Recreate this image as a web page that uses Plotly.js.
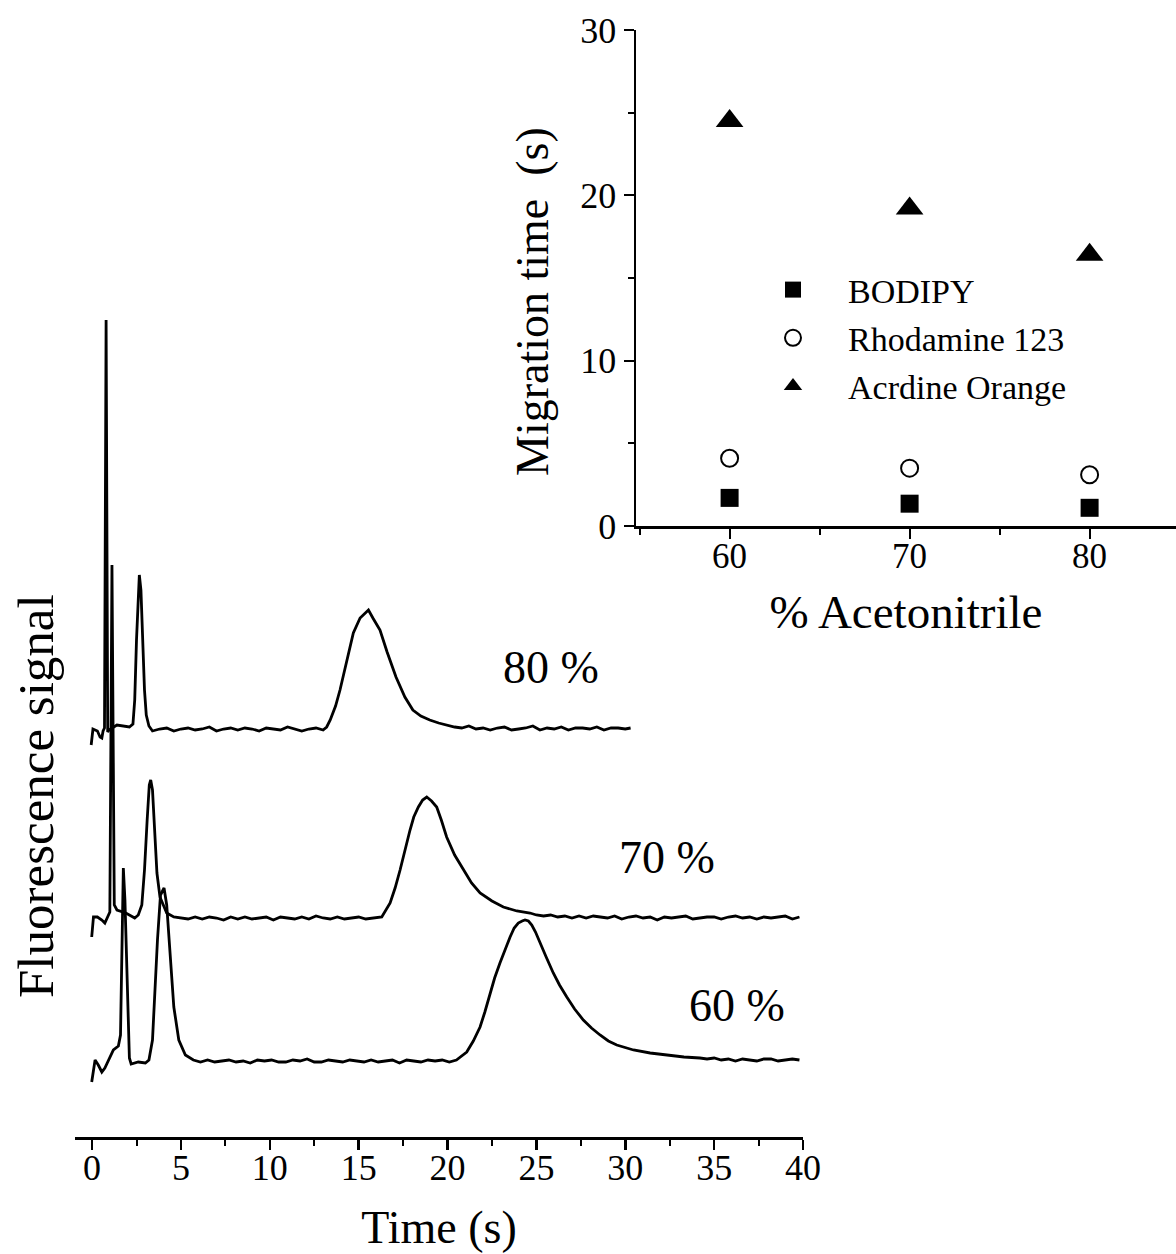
<!DOCTYPE html>
<html>
<head>
<meta charset="utf-8">
<script src="https://cdn.plot.ly/plotly-3.0.1.min.js"></script>
<style>html,body{margin:0;padding:0;background:#fff;}#chart{width:1176px;height:1254px;}</style>
</head>
<body>
<div id="chart"></div>
<script>
// ---------- Electropherograms (time in s, signal relative to each trace baseline, arbitrary units) ----------
const time80 = [-0.05, 0.05, 0.3, 0.45, 0.55, 0.62, 0.7, 0.79, 0.88, 0.95, 1.4, 1.8, 2.1, 2.3, 2.4, 2.5, 2.6, 2.66, 2.75, 2.85, 2.95, 3.05, 3.2, 3.4,
  3.8, 4.2, 4.6, 5.0, 5.4, 5.8, 6.2, 6.6, 7.0, 7.4, 7.8, 8.2, 8.6, 9.0, 9.4, 9.8, 10.2, 10.6, 11.0, 11.4, 11.8, 12.2, 12.6, 13.0,
  13.2, 13.4, 13.7, 13.95, 14.33, 14.7, 15.08, 15.4, 15.55, 15.8, 16.2, 16.6, 17.1, 17.6, 18.05, 18.5, 19.0, 19.5, 19.95,
  20.4, 20.8, 21.2, 21.6, 22.0, 22.4, 22.8, 23.2, 23.6, 24.0, 24.4, 24.8, 25.2, 25.6, 26.0, 26.4, 26.8, 27.2, 27.6, 28.0, 28.4, 28.8, 29.2, 29.6, 30.0, 30.3];
const signal80 = [-16, 0, -2, -8, -9, -2, 1, 409, -3, -1, 4, 3, 2, 5, 29, 89, 144, 154, 139, 89, 39, 14, 3, -2,
  0, 1, -2, 0, 1, -1, 0, 2, -2, 0, 1, -1, 1, 0, -2, 1, 0, -1, 2, 0, -2, 0, 1, -1,
  2, 9, 23, 39, 69, 96, 111, 117, 119, 111, 99, 77, 52, 32, 19, 13, 9, 6, 4,
  2, 1, 3, 0, 1, -1, 1, 2, -1, 0, 1, 3, -1, 1, 0, 2, -1, 1, 1, 0, 2, -1, 1, 1, 0, 1];

const time70 = [-0.02, 0.08, 0.3, 0.55, 0.72, 0.85, 1.0, 1.12, 1.25, 1.4, 1.9, 2.4, 2.6, 2.8, 2.95, 3.1, 3.22, 3.3, 3.4, 3.55, 3.65, 3.82, 4.2, 4.6,
  5.0, 5.4, 5.8, 6.2, 6.6, 7.0, 7.4, 7.8, 8.2, 8.6, 9.0, 9.4, 9.8, 10.2, 10.6, 11.0, 11.4, 11.8, 12.2, 12.6, 13.0, 13.4, 13.8, 14.2, 14.6, 15.0, 15.4, 15.8,
  16.3, 16.77, 17.05, 17.33, 17.6, 17.89, 18.1, 18.36, 18.6, 18.83, 19.1, 19.39, 19.65, 19.95, 20.4, 20.89, 21.35, 21.83, 22.5, 23.14, 23.9, 24.64,
  25.0, 25.4, 25.8, 26.2, 26.6, 27.0, 27.4, 27.8, 28.2, 28.6, 29.0, 29.4, 29.8, 30.2, 30.6, 31.0, 31.4, 31.8, 32.2, 32.6, 33.0, 33.4, 33.8, 34.2, 34.6, 35.0, 35.4, 35.8, 36.2, 36.6, 37.0, 37.4, 37.8, 38.2, 38.6, 39.0, 39.4, 39.8];
const signal70 = [-19, 1, 1, -2, -5, 0, 6, 353, 13, 8, 5, 0, 3, 13, 48, 98, 133, 138, 128, 78, 45, 21, 5, 1,
  0, -1, 1, -1, 1, 0, -2, 1, -1, 1, -1, 0, 1, -2, 1, 0, -1, 1, -1, 2, 0, -1, 1, -1, 0, 1, -1, 0,
  1, 15, 30, 48, 68, 88, 101, 111, 118, 121, 117, 111, 98, 81, 63, 48, 35, 25, 17, 11, 7, 5,
  3, 2, 3, 1, 2, 0, 2, 0, 2, 1, 0, 2, -1, 1, 2, 0, 1, -2, 1, 0, 1, 2, -1, 0, 1, 1, -1, 1, 2, 0, 1, -1, 1, 0, 1, 2, -1, 1];

const time60 = [-0.02, 0.17, 0.35, 0.55, 0.72, 1.0, 1.2, 1.48, 1.6, 1.7, 1.76, 1.85, 1.95, 2.1, 2.2, 2.6, 3.0, 3.2, 3.4, 3.55, 3.68, 3.85, 4.05, 4.2, 4.3, 4.45, 4.6, 4.88, 5.25, 5.7,
  6.1, 6.5, 6.9, 7.3, 7.7, 8.1, 8.5, 8.9, 9.3, 9.7, 10.1, 10.5, 10.9, 11.3, 11.7, 12.1, 12.5, 12.9, 13.3, 13.7, 14.1, 14.5, 14.9, 15.3, 15.7, 16.1, 16.5, 16.9, 17.3, 17.7, 18.1, 18.5, 18.9, 19.3, 19.7, 20.1,
  20.5, 21.08, 21.45, 21.83, 22.1, 22.39, 22.65, 22.95, 23.25, 23.52, 23.75, 23.98, 24.2, 24.36, 24.55, 24.74, 24.95, 25.2, 25.55, 25.95, 26.3, 26.71, 27.15, 27.64, 28.1, 28.58, 29.05, 29.52, 30.46, 31.4, 32.33, 33.3, 34.2,
  34.6, 35.0, 35.4, 35.8, 36.2, 36.6, 37.0, 37.4, 37.8, 38.2, 38.6, 39.0, 39.4, 39.8];
const signal60 = [-21, 1, -4, -11, -7, 4, 11, 15, 26, 131, 193, 161, 86, 3, -3, -1, -2, 1, 21, 76, 121, 166, 173, 156, 128, 91, 54, 21, 6, 1,
  -1, 1, -1, 0, 1, -1, 0, -2, 1, 0, 1, -1, -1, 1, 0, 2, -1, -1, 1, 0, -1, 1, 0, -1, 1, -1, 0, 1, -2, 1, 0, -1, 1, 0, 1, -1,
  1, 9, 20, 34, 49, 68, 83, 98, 112, 124, 133, 138, 140, 141, 140, 136, 129, 118, 104, 88, 76, 64, 52, 41, 33, 26, 20, 16, 11, 8, 6, 4, 3,
  2, 3, 1, 2, 0, 2, 1, 0, 2, 2, 0, 1, 2, 1];

const traceLabels = ['80 %', '70 %', '60 %'];
const traceOffsets = [408, 219, 76];   // vertical stacking of the three runs

// ---------- Inset: migration time vs % acetonitrile ----------
const acetonitrile = [60, 70, 80];
const bodipy = [1.7, 1.35, 1.1];
const rhodamine123 = [4.1, 3.5, 3.1];
const acridineOrange = [24.5, 19.2, 16.4];

const W = 1176, H = 1254;
const px = v => v / W;
const py = v => 1 - v / H;

function shift(arr, off) { return arr.map(v => v + off); }

const lineStyle = {color: '#000', width: 2.8};
const traces = [
  {x: time80, y: shift(signal80, traceOffsets[0]), type: 'scatter', mode: 'lines', line: lineStyle, showlegend: false, xaxis: 'x', yaxis: 'y', hoverinfo: 'skip'},
  {x: time70, y: shift(signal70, traceOffsets[1]), type: 'scatter', mode: 'lines', line: lineStyle, showlegend: false, xaxis: 'x', yaxis: 'y', hoverinfo: 'skip'},
  {x: time60, y: shift(signal60, traceOffsets[2]), type: 'scatter', mode: 'lines', line: lineStyle, showlegend: false, xaxis: 'x', yaxis: 'y', hoverinfo: 'skip'},
  {x: acetonitrile, y: bodipy, name: 'BODIPY', type: 'scatter', mode: 'markers', legendgroup: 'a',
   marker: {symbol: 'square', size: 18, color: '#000'}, xaxis: 'x2', yaxis: 'y2'},
  {x: acetonitrile, y: rhodamine123, name: 'Rhodamine 123', type: 'scatter', mode: 'markers', legendgroup: 'b',
   marker: {symbol: 'circle-open', size: 17, color: '#000', line: {width: 2, color: '#000'}}, xaxis: 'x2', yaxis: 'y2'},
  {x: acetonitrile, y: acridineOrange, name: 'Acrdine Orange', type: 'scatter', mode: 'markers', legendgroup: 'c',
   marker: {symbol: 'triangle-up', size: 24, color: '#000'}, xaxis: 'x2', yaxis: 'y2'}
];

const labelPos = [[551, 667], [667, 857], [737, 1005]];
const annotations = traceLabels.map((t, i) => ({
  text: t, xref: 'paper', yref: 'paper', x: px(labelPos[i][0]), y: py(labelPos[i][1]),
  xanchor: 'center', yanchor: 'middle', showarrow: false, font: {size: 46, color: '#000'}
}));
// axis titles placed as rotated text
annotations.push({text: 'Fluorescence signal', xref: 'paper', yref: 'paper', x: px(36), y: py(796),
  xanchor: 'center', yanchor: 'middle', textangle: -90, showarrow: false, font: {size: 51, color: '#000'}});
annotations.push({text: 'Migration time\u00a0 (s)', xref: 'paper', yref: 'paper', x: px(533), y: py(302),
  xanchor: 'center', yanchor: 'middle', textangle: -90, showarrow: false, font: {size: 46, color: '#000'}});

const layout = {
  width: W, height: H,
  margin: {l: 0, r: 0, t: 0, b: 0},
  paper_bgcolor: '#fff', plot_bgcolor: 'rgba(0,0,0,0)',
  font: {family: '"Liberation Serif", "Times New Roman", serif', color: '#000'},
  showlegend: true,
  legend: {x: px(738), y: py(261), xanchor: 'left', yanchor: 'top', bgcolor: 'rgba(0,0,0,0)',
           font: {size: 34, color: '#000'}, itemwidth: 100, tracegroupgap: 1},
  xaxis: {domain: [px(75), px(803)], range: [-0.96, 40], anchor: 'y',
          showline: true, linewidth: 3, linecolor: '#000', mirror: false,
          ticks: 'outside', ticklen: 10, tickwidth: 2.5, tickcolor: '#000', tick0: 0, dtick: 5,
          minor: {dtick: 2.5, ticks: 'outside', ticklen: 6, tickwidth: 2, tickcolor: '#000', showgrid: false},
          showgrid: false, zeroline: false, tickfont: {size: 36}, ticklabelstandoff: -13,
          title: {text: 'Time (s)', font: {size: 46}, standoff: 24}},
  yaxis: {domain: [py(1137), py(300)], range: [0, 837], anchor: 'x',
          showline: false, showticklabels: false, ticks: '', showgrid: false, zeroline: false},
  xaxis2: {domain: [px(636), 1], range: [54.8, 84.8], anchor: 'y2',
           showline: true, linewidth: 2.5, linecolor: '#000',
           ticks: 'outside', ticklen: 10, tickwidth: 2, tickcolor: '#000', tick0: 60, dtick: 10,
           minor: {dtick: 5, ticks: 'outside', ticklen: 6, tickwidth: 2, tickcolor: '#000', showgrid: false},
           showgrid: false, zeroline: false, tickfont: {size: 35}, ticklabelstandoff: -13,
           title: {text: '% Acetonitrile', font: {size: 47}, standoff: 21}},
  yaxis2: {domain: [py(526), py(30)], range: [0, 30], anchor: 'x2',
           showline: true, linewidth: 2.5, linecolor: '#000',
           ticks: 'outside', ticklen: 10, tickwidth: 2, tickcolor: '#000', tick0: 0, dtick: 10,
           minor: {dtick: 5, ticks: 'outside', ticklen: 6, tickwidth: 2, tickcolor: '#000', showgrid: false},
           showgrid: false, zeroline: false, tickfont: {size: 36}},
  annotations: annotations
};

Plotly.newPlot('chart', traces, layout, {staticPlot: true, displayModeBar: false});
</script>
</body>
</html>
